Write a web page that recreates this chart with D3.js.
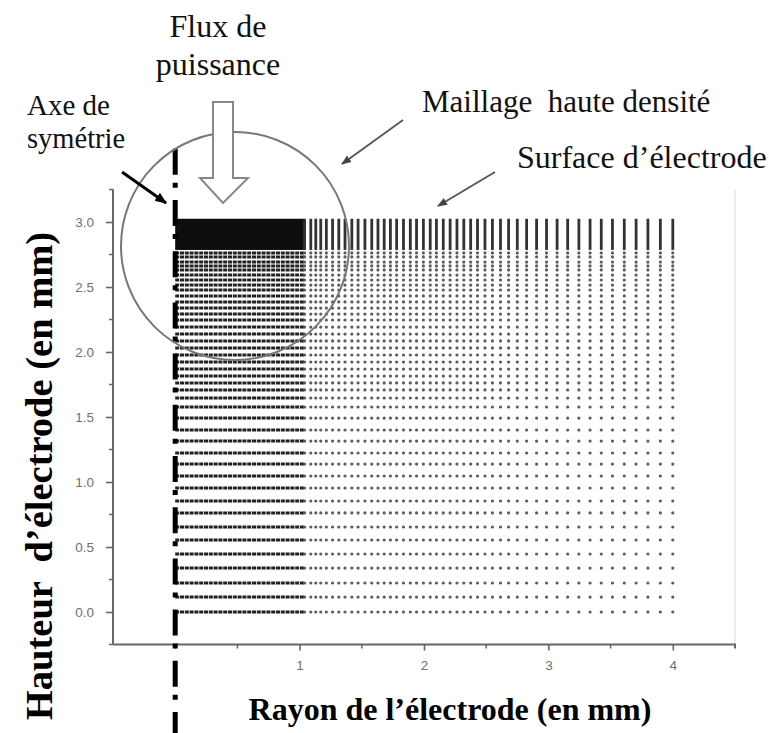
<!DOCTYPE html>
<html><head><meta charset="utf-8">
<script src="https://cdn.jsdelivr.net/npm/d3@7"></script>
<style>body{margin:0;background:#fff}</style>
</head><body>
<script>
// ---- data ----
const meshColumnsX = [1.04, 1.09, 1.13, 1.17, 1.215, 1.265, 1.315, 1.365, 1.42, 1.47, 1.525, 1.58, 1.63, 1.68, 1.73, 1.78,
  1.835, 1.89, 1.94, 1.995, 2.05, 2.10, 2.155, 2.21, 2.265, 2.32, 2.375, 2.43, 2.49, 2.55, 2.615, 2.68, 2.75, 2.825,
  2.905, 2.985, 3.07, 3.155, 3.245, 3.335, 3.425, 3.515, 3.61, 3.705, 3.80, 3.90, 4.0];
const meshRowsY = [0.000, 0.115, 0.223, 0.338, 0.446, 0.554, 0.654, 0.762, 0.854, 0.954, 1.046, 1.138, 1.223, 1.315,
  1.400, 1.492, 1.577, 1.646, 1.708, 1.762, 1.815, 1.869, 1.923, 1.977, 2.031, 2.085, 2.138, 2.192, 2.246, 2.292,
  2.338, 2.385, 2.431, 2.477, 2.515, 2.554, 2.592, 2.631, 2.662, 2.692, 2.731, 2.762];
const denseZoneX = [0, 1.04];
const topBandY = [2.785, 3.025];
const yTickValues = [0, 0.5, 1.0, 1.5, 2.0, 2.5, 3.0];
const yMinorTicks = [-0.25, 0.25, 0.75, 1.25, 1.75, 2.25, 2.75, 3.25];
const xTickValues = [1, 2, 3, 4];
const xMinorTicks = [0, 0.5, 1.5, 2.5, 3.5];
const xTitle = "Rayon de l’électrode (en mm)";
const yTitle = "Hauteur  d’électrode (en mm)";
const annotations = [
  {text: "Flux de", x: 218, y: 37, size: 32, anchor: "middle"},
  {text: "puissance", x: 218, y: 75, size: 32, anchor: "middle"},
  {text: "Axe de", x: 27, y: 115, size: 29, anchor: "start"},
  {text: "symétrie", x: 27, y: 148, size: 28.5, anchor: "start"},
  {text: "Maillage  haute densité", x: 422, y: 112, size: 31, anchor: "start"},
  {text: "Surface d’électrode", x: 517, y: 168, size: 32, anchor: "start"}
];

const W = 769, H = 733;
const serif = "'Liberation Serif','Times New Roman',serif";
const sans = "'Liberation Sans',Arial,sans-serif";

const svg = d3.select("body").append("svg").attr("width", W).attr("height", H);
const x = d3.scaleLinear().domain([-0.5, 4.5]).range([113, 735]);
const y = d3.scaleLinear().domain([-0.25, 3.25]).range([644.5, 189.5]);

// faint right border
svg.append("line").attr("x1", x(4.5)).attr("x2", x(4.5)).attr("y1", y(3.25)).attr("y2", y(-0.25))
  .attr("stroke", "#e6e6e6").attr("stroke-width", 1.5);

const mesh = svg.append("g");
// dense zone rows (nodes merge into lines)
mesh.selectAll("line.row").data(meshRowsY).join("line").attr("class", "row")
  .attr("x1", x(denseZoneX[0])).attr("x2", x(denseZoneX[1]))
  .attr("y1", d => y(d)).attr("y2", d => y(d))
  .attr("stroke", "#222").attr("stroke-width", 3).attr("stroke-dasharray", "4,0.8");
// coarse nodes
const nodes = [];
meshColumnsX.forEach(cx => meshRowsY.forEach(cy => nodes.push([cx, cy])));
mesh.selectAll("circle").data(nodes).join("circle")
  .attr("cx", d => x(d[0])).attr("cy", d => y(d[1])).attr("r", 1.6).attr("fill", "#5c5c5c");
// top refined band
mesh.append("rect").attr("x", x(denseZoneX[0])).attr("width", x(denseZoneX[1]) - x(denseZoneX[0]))
  .attr("y", y(topBandY[1])).attr("height", y(topBandY[0]) - y(topBandY[1])).attr("fill", "#0d0d0d");
mesh.selectAll("line.col").data(meshColumnsX).join("line").attr("class", "col")
  .attr("x1", d => x(d)).attr("x2", d => x(d))
  .attr("y1", y(topBandY[1])).attr("y2", y(topBandY[0]))
  .attr("stroke", "#333").attr("stroke-width", 2.8);

// axes
const axisColor = "#666";
const yAxis = svg.append("g").attr("transform", `translate(${x(-0.5)},0)`)
  .call(d3.axisLeft(y).tickValues(yTickValues).tickFormat(d3.format(".1f")).tickSize(7).tickPadding(12));
yAxis.select(".domain").attr("d", `M0,${y(3.25)}V${y(-0.25)}`);
const xAxis = svg.append("g").attr("transform", `translate(0,${y(-0.25)})`)
  .call(d3.axisBottom(x).tickValues(xTickValues).tickFormat(d3.format("d")).tickSize(6).tickPadding(10));
xAxis.select(".domain").attr("d", `M${x(-0.5)},0H${x(4.5)}V4`);
[yAxis, xAxis].forEach(g => {
  g.select(".domain").attr("stroke", axisColor).attr("stroke-width", 2).attr("fill", "none");
  g.selectAll(".tick line").attr("stroke", axisColor).attr("stroke-width", 1.6);
  g.selectAll(".tick text").attr("fill", "#6f6f6f").attr("font-family", sans).attr("font-size", 13.5);
});
yAxis.selectAll("line.minor").data(yMinorTicks).join("line").attr("class", "minor")
  .attr("x1", -4).attr("x2", 0).attr("y1", d => y(d)).attr("y2", d => y(d))
  .attr("stroke", axisColor).attr("stroke-width", 1.5);
xAxis.selectAll("line.minor").data(xMinorTicks).join("line").attr("class", "minor")
  .attr("y1", 0).attr("y2", 4).attr("x1", d => x(d)).attr("x2", d => x(d))
  .attr("stroke", axisColor).attr("stroke-width", 1.5);

// symmetry axis (dash-dot)
svg.append("line").attr("x1", x(0)).attr("x2", x(0)).attr("y1", 148.8).attr("y2", H)
  .attr("stroke", "#000").attr("stroke-width", 5).attr("stroke-dasharray", "26,8,5,12.2");

// circle around the refined mesh
svg.append("circle").attr("cx", 235).attr("cy", 246).attr("r", 114)
  .attr("fill", "none").attr("stroke", "#777").attr("stroke-width", 2);

// hollow power-flux arrow
svg.append("path")
  .attr("d", "M213,102 H233 V178 H248 L223,203 L200,178 H213 Z")
  .attr("fill", "#fff").attr("stroke", "#888").attr("stroke-width", 2);

// arrow markers
const defs = svg.append("defs");
function marker(id, color, size) {
  defs.append("marker").attr("id", id).attr("viewBox", "0 0 10 10").attr("refX", 9).attr("refY", 5)
    .attr("markerWidth", size).attr("markerHeight", size).attr("markerUnits", "userSpaceOnUse").attr("orient", "auto")
    .append("path").attr("d", "M0,1 L10,5 L0,9 Z").attr("fill", color);
}
marker("mk", "#000", 12);
marker("mg", "#444", 10);
svg.append("line").attr("x1", 122).attr("y1", 172).attr("x2", 166).attr("y2", 203)
  .attr("stroke", "#000").attr("stroke-width", 3).attr("marker-end", "url(#mk)");
svg.append("line").attr("x1", 403).attr("y1", 120).attr("x2", 342).attr("y2", 164)
  .attr("stroke", "#555").attr("stroke-width", 1.8).attr("marker-end", "url(#mg)");
svg.append("line").attr("x1", 495).attr("y1", 172).attr("x2", 438).attr("y2", 206)
  .attr("stroke", "#555").attr("stroke-width", 1.8).attr("marker-end", "url(#mg)");

// annotations
svg.selectAll("text.ann").data(annotations).join("text").attr("class", "ann")
  .attr("x", d => d.x).attr("y", d => d.y).attr("text-anchor", d => d.anchor)
  .attr("font-family", serif).attr("font-size", d => d.size).attr("fill", "#111")
  .style("white-space", "pre").text(d => d.text);

// axis titles
svg.append("text").attr("x", 450).attr("y", 720).attr("text-anchor", "middle")
  .attr("font-family", serif).attr("font-weight", "bold").attr("font-size", 32).attr("fill", "#000")
  .text(xTitle);
svg.append("text").attr("transform", "translate(52,476) rotate(-90)").attr("text-anchor", "middle")
  .attr("font-family", serif).attr("font-weight", "bold").attr("font-size", 38.5).attr("fill", "#000")
  .style("white-space", "pre").text(yTitle);
</script>
</body></html>
